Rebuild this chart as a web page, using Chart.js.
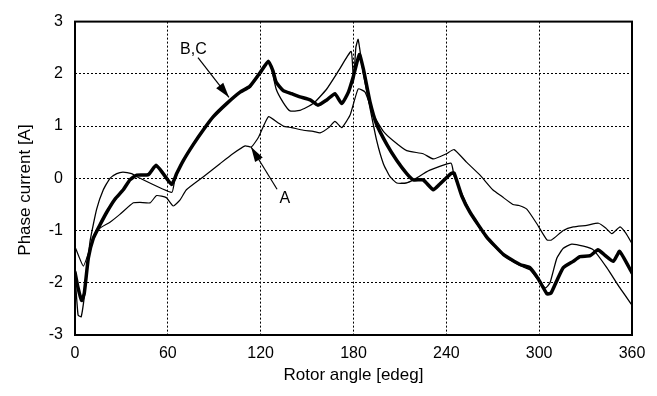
<!DOCTYPE html>
<html>
<head>
<meta charset="utf-8">
<script src="https://cdn.jsdelivr.net/npm/chart.js@4.4.0/dist/chart.umd.min.js"></script>
<style>
  html, body { margin: 0; padding: 0; background: #fff; }
</style>
</head>
<body>
<canvas id="phase-chart" width="657" height="396"></canvas>
<script>
// Tick labels
const angleTicks = [0, 60, 120, 180, 240, 300, 360];
const currentTicks = [-3, -2, -1, 0, 1, 2, 3];

// Curve A (thin, lowest in the middle)
const angleA = [0, 5.4, 9.7, 15, 22.6, 29, 37.7, 42, 48.5, 52.8, 59, 63.5, 67.8, 72, 83, 93.7, 102, 110, 114, 118.5,
  125, 131.4, 134.6, 140, 147.6, 154, 158.4, 164, 168, 172.4, 177.8, 183, 187.5, 193, 199.3, 205.7, 214.4, 225, 231.6, 240,
  245, 253, 261.8, 270, 276, 283, 287, 292, 298.5, 305, 308, 315.6, 322, 330.8, 338.3, 343, 347, 352.3, 356, 360];
const currentA = [-1.31, -1.68, -1.34, -0.98, -0.84, -0.69, -0.47, -0.46, -0.47, -0.33, -0.37, -0.53, -0.42, -0.22, 0.03, 0.28, 0.47, 0.62, 0.6, 0.78,
  1.18, 1.06, 1.0, 0.97, 0.92, 0.9, 0.87, 0.97, 1.09, 0.97, 1.21, 1.71, 1.65, 1.21, 0.9, 0.72, 0.53, 0.47, 0.37, 0.47,
  0.55, 0.31, 0.06, -0.22, -0.35, -0.5, -0.52, -0.59, -0.87, -1.18, -1.18, -1.0, -0.93, -0.9, -0.86, -0.95, -1.06, -0.93, -1.05, -1.25];

// Curve B (thick)
const angleB = [0, 2, 4.3, 6, 8.6, 11.8, 16, 20.5, 25.8, 31.2, 35.5, 39.9, 47.4, 52.4, 57, 62.5, 65.7, 70, 76.5, 83,
  89.4, 98, 106.7, 113, 119.6, 125, 128, 130, 134.6, 140, 145.4, 152, 157, 162.7, 168, 172.4, 176.7, 180, 183.8, 186.4,
  190.7, 195, 201.5, 208, 214.4, 218.7, 225, 231.6, 235.5, 243, 245, 250, 255.3, 266, 277, 287.6, 294, 299.5, 305, 307.6,
  311.4, 315.6, 322, 326.4, 333, 338, 342, 348, 352, 360];
const currentB = [-1.8, -2.1, -2.34, -2.2, -1.53, -1.15, -0.9, -0.65, -0.4, -0.22, -0.03, 0.06, 0.07, 0.25, 0.09, -0.12, 0.09, 0.34, 0.65, 0.93,
  1.18, 1.43, 1.65, 1.76, 2.02, 2.24, 2.05, 1.84, 1.68, 1.62, 1.56, 1.5, 1.4, 1.5, 1.62, 1.43, 1.65, 1.96, 2.37, 2.09,
  1.46, 1.03, 0.65, 0.34, 0.09, -0.03, -0.03, -0.22, -0.12, 0.09, 0.1, -0.34, -0.65, -1.12, -1.46, -1.65, -1.71, -1.93, -2.21, -2.2,
  -1.96, -1.71, -1.59, -1.5, -1.48, -1.37, -1.46, -1.59, -1.4, -1.81];

// Curve C (thin, highest peaks)
const angleC = [0, 2, 4, 6.5, 9.7, 14, 18.3, 22.6, 27, 31, 36.6, 40, 62.5, 64.5, 70, 76.5, 83, 89.4, 98, 106.7,
  113, 119.6, 125, 127, 130, 134.6, 139, 145.4, 154, 162.7, 171, 178.5, 180, 181.5, 183, 186.4, 190.7, 195, 199.3, 203.6,
  208, 214, 218.7, 229, 243, 245, 251, 257.5, 266, 277, 287.6, 294, 299.5, 304, 307, 311.4, 315.6, 321, 328.6, 335,
  343.7, 352, 360];
const currentC = [-1.84, -2.62, -2.65, -2.15, -1.21, -0.59, -0.22, 0, 0.09, 0.12, 0.09, 0.03, -0.27, -0.03, 0.34, 0.65, 0.93, 1.18, 1.43, 1.65,
  1.74, 2.0, 2.24, 2.1, 1.71, 1.45, 1.29, 1.3, 1.43, 1.71, 2.09, 2.43, 1.85, 2.5, 2.66, 2.0, 1.34, 0.72, 0.28, 0.03,
  -0.09, -0.09, -0.03, 0.15, 0.29, 0.05, -0.36, -0.77, -1.14, -1.48, -1.67, -1.75, -1.95, -2.1, -2.0, -1.53, -1.34, -1.26, -1.3, -1.37,
  -1.71, -2.09, -2.43];

// Callout labels, in data coordinates (angle, current)
const callouts = [
  { text: 'B,C', align: 'left', at: [67.9, 2.46], from: [79.5, 2.31], to: [99.5, 1.55] },
  { text: 'A', align: 'center', at: [135.7, -0.39], from: [130.6, -0.21], to: [113.8, 0.6] }
];

const FONT = '"Liberation Sans", Arial, sans-serif';

function toPoints(xs, ys) {
  return xs.map((x, i) => ({ x: x, y: ys[i] }));
}

// Frame, callouts and y title drawn on top of the plot
const overlay = {
  id: 'overlay',
  afterDatasetsDraw(chart) {
    const { ctx, chartArea: a, scales: { x, y } } = chart;
    ctx.save();
    ctx.strokeStyle = '#000';
    ctx.lineWidth = 2;
    ctx.strokeRect(a.left, a.top, a.right - a.left, a.bottom - a.top);

    ctx.fillStyle = '#000';
    ctx.lineWidth = 1.2;
    callouts.forEach(c => {
      const x1 = x.getPixelForValue(c.from[0]), y1 = y.getPixelForValue(c.from[1]);
      const x2 = x.getPixelForValue(c.to[0]), y2 = y.getPixelForValue(c.to[1]);
      ctx.beginPath();
      ctx.moveTo(x1, y1);
      ctx.lineTo(x2, y2);
      ctx.stroke();
      // arrow head
      const ang = Math.atan2(y2 - y1, x2 - x1);
      const len = 15, half = 4.5;
      ctx.beginPath();
      ctx.moveTo(x2, y2);
      ctx.lineTo(x2 - len * Math.cos(ang) + half * Math.sin(ang), y2 - len * Math.sin(ang) - half * Math.cos(ang));
      ctx.lineTo(x2 - len * Math.cos(ang) - half * Math.sin(ang), y2 - len * Math.sin(ang) + half * Math.cos(ang));
      ctx.closePath();
      ctx.fill();

      ctx.font = '16px ' + FONT;
      ctx.textAlign = c.align;
      ctx.textBaseline = 'middle';
      ctx.fillText(c.text, x.getPixelForValue(c.at[0]), y.getPixelForValue(c.at[1]));
    });

    // y axis title
    ctx.translate(25, 190);
    ctx.rotate(-Math.PI / 2);
    ctx.font = '17px ' + FONT;
    ctx.textAlign = 'center';
    ctx.textBaseline = 'middle';
    ctx.fillText('Phase current [A]', 0, 0);
    ctx.restore();
  }
};

function initChart() {
  const ctx = document.getElementById('phase-chart').getContext('2d');
  new Chart(ctx, {
    type: 'line',
    data: {
      datasets: [
        { label: 'A', data: toPoints(angleA, currentA), borderColor: '#000', borderWidth: 1.2 },
        { label: 'C', data: toPoints(angleC, currentC), borderColor: '#000', borderWidth: 1.3 },
        { label: 'B', data: toPoints(angleB, currentB), borderColor: '#000', borderWidth: 3.5 }
      ]
    },
    options: {
      responsive: false,
      animation: false,
      parsing: false,
      layout: { padding: { top: 13, right: 25, left: 0, bottom: 0 } },
      elements: {
        point: { radius: 0 },
        line: { tension: 0.15, borderJoinStyle: 'round', borderCapStyle: 'round' }
      },
      plugins: {
        legend: { display: false },
        tooltip: { enabled: false }
      },
      scales: {
        x: {
          type: 'linear',
          min: 0,
          max: 360,
          afterBuildTicks: s => { s.ticks = angleTicks.map(v => ({ value: v })); },
          afterFit: s => { s.height = 61; },
          grid: { color: '#000', lineWidth: 1, drawTicks: false },
          border: { display: false, dash: [2, 2] },
          ticks: { color: '#000', padding: 9, font: { family: FONT, size: 16 } },
          title: {
            display: true,
            text: 'Rotor angle [edeg]',
            color: '#000',
            font: { family: FONT, size: 17 },
            padding: { top: 0, bottom: 10 }
          }
        },
        y: {
          type: 'linear',
          min: -3,
          max: 3,
          afterBuildTicks: s => { s.ticks = currentTicks.map(v => ({ value: v })); },
          afterFit: s => { s.width = 75; },
          grid: { color: '#000', lineWidth: 1, drawTicks: false },
          border: { display: false, dash: [2, 2] },
          ticks: { color: '#000', padding: 12, font: { family: FONT, size: 16 } }
        }
      }
    },
    plugins: [overlay]
  });
}

window.onload = initChart;
</script>
</body>
</html>
